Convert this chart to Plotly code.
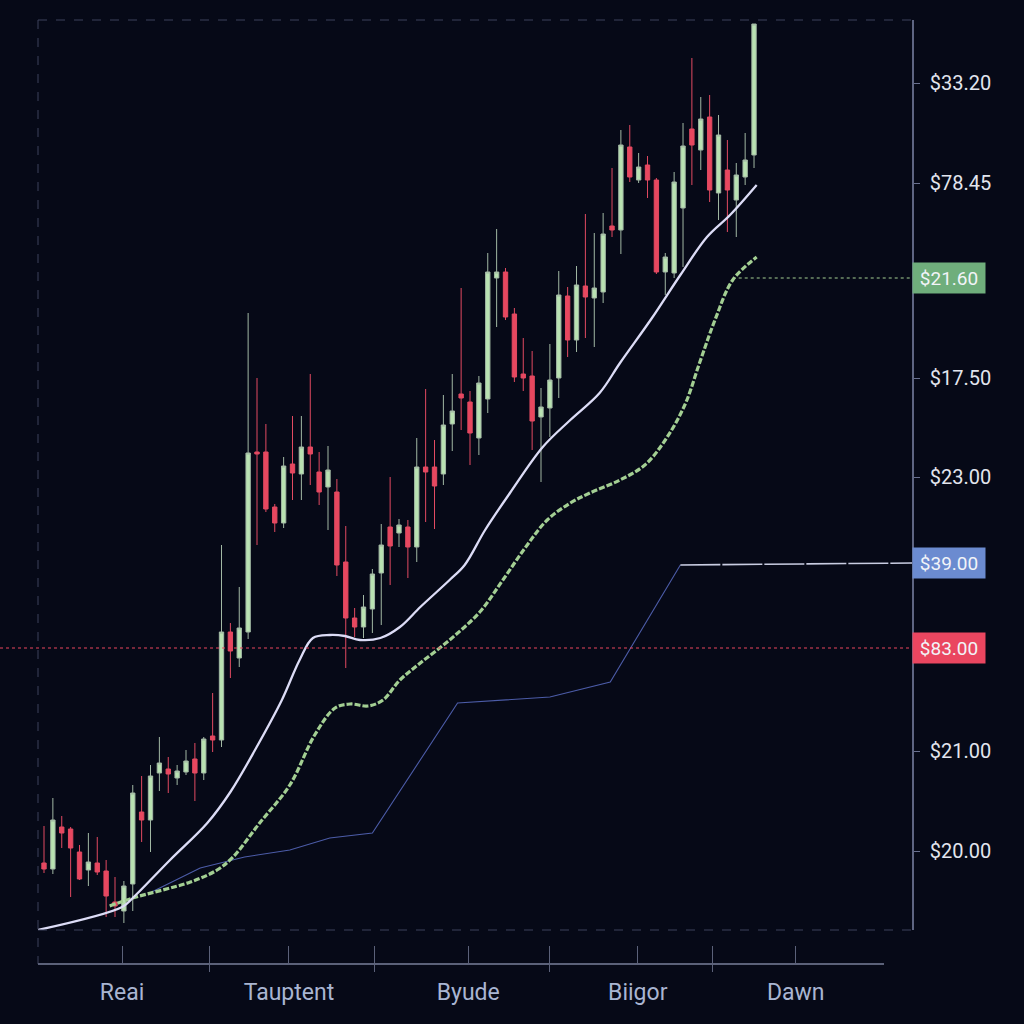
import plotly.graph_objects as go

# ---------------- data ----------------
periods = list(range(81))
open_ = [6.7, 6.1, 10.3, 10.1, 7.8, 6.0, 6.7, 5.9, 2.8, 1.9,
         4.6, 11.8, 11.0, 15.7, 16.1, 15.2, 15.8, 17.1, 15.7, 19.4,
         19.0, 29.8, 27.2, 29.8, 47.8, 47.8, 42.3, 40.7, 46.6, 45.6,
         48.3, 45.8, 44.3, 43.8, 36.8, 31.2, 30.3, 32.1, 35.7, 40.3,
         39.7, 40.3, 38.3, 46.3, 46.3, 45.6, 50.6, 53.6, 52.8, 49.2,
         53.1, 65.2, 65.8, 61.6, 55.6, 55.4, 51.3, 52.2, 55.2, 63.4,
         59.0, 64.4, 63.2, 63.8, 70.4, 70.0, 78.3, 75.0, 76.5, 75.0,
         65.8, 65.7, 72.2, 80.1, 78.0, 81.3, 73.7, 76.0, 73.0, 75.3, 77.5]
high = [10.4, 13.2, 11.4, 10.3, 8.5, 9.7, 9.3, 7.0, 5.3, 4.9,
        14.5, 15.4, 16.5, 19.3, 17.3, 16.5, 18.0, 18.7, 19.3, 23.7,
        38.5, 30.7, 34.3, 61.7, 55.2, 50.6, 42.6, 47.3, 51.4, 51.4,
        55.6, 47.8, 48.4, 45.1, 40.4, 32.2, 33.5, 36.1, 40.6, 45.3,
        41.1, 41.0, 49.2, 54.1, 49.0, 53.5, 55.6, 64.2, 53.9, 55.4,
        67.7, 70.1, 66.2, 62.2, 59.2, 57.9, 54.2, 58.6, 65.9, 64.3,
        66.4, 71.6, 69.7, 71.7, 76.2, 80.0, 80.5, 77.7, 77.4, 75.2,
        67.7, 75.8, 80.7, 87.2, 83.3, 83.5, 81.5, 79.0, 76.7, 79.7, 90.6]
low = [5.7, 5.6, 8.2, 3.3, 5.0, 4.4, 5.5, 1.3, 1.3, 0.7,
       1.9, 8.8, 7.8, 13.9, 13.7, 14.5, 15.5, 12.9, 15.0, 17.8,
       18.3, 25.2, 26.3, 29.1, 38.5, 41.8, 39.8, 40.2, 43.0, 43.0,
       44.5, 42.5, 40.0, 35.4, 26.2, 29.3, 29.2, 29.7, 30.5, 34.5,
       38.3, 35.2, 36.8, 40.8, 40.1, 44.5, 47.9, 50.0, 46.5, 47.5,
       51.7, 60.3, 61.0, 54.8, 53.9, 48.0, 44.8, 49.3, 53.2, 57.3,
       57.8, 59.2, 58.3, 62.7, 69.3, 67.6, 74.8, 74.7, 73.2, 65.6,
       63.5, 65.2, 66.3, 74.5, 76.0, 72.8, 71.0, 69.8, 69.3, 74.5, 76.2]
close = [6.1, 11.0, 9.7, 8.2, 5.1, 6.8, 5.8, 3.4, 2.4, 4.4,
         13.7, 11.0, 15.4, 16.7, 15.6, 15.9, 16.9, 15.7, 19.1, 19.0,
         29.8, 27.9, 30.2, 47.7, 47.6, 42.1, 40.7, 46.4, 45.7, 48.3,
         47.6, 43.8, 46.0, 36.5, 31.2, 30.3, 32.3, 35.6, 38.5, 38.4,
         40.5, 38.3, 46.3, 45.8, 44.4, 50.5, 51.9, 53.2, 49.7, 54.7,
         65.8, 65.8, 61.3, 55.3, 55.2, 50.9, 52.3, 55.0, 63.5, 59.0,
         64.5, 63.3, 64.2, 69.6, 70.0, 78.5, 75.3, 76.3, 75.0, 65.8,
         67.3, 74.8, 78.4, 78.5, 81.1, 74.0, 79.5, 74.0, 75.5, 77.0, 90.6]

# fast average line
ma_fast_x = [-0.68, 8.8, 10.0, 14.2, 18.4, 21.0, 23.9, 26.8, 28.8, 30.3, 32.2, 33.9,
             35.6, 37.9, 40.1, 42.4, 45.7, 47.4, 49.7, 52.5, 56.2, 59.3, 62.6, 64.9,
             68.5, 71.7, 74.7, 77.3, 80.3]
ma_fast_y = [0.0, 2.3, 3.2, 7.0, 10.7, 13.8, 18.2, 23.0, 27.0, 29.2, 29.5, 29.4,
             29.0, 29.2, 30.3, 32.3, 35.0, 36.5, 40.0, 43.7, 48.3, 51.0, 53.7, 56.7,
             61.2, 65.5, 69.3, 71.5, 74.5]
# slow average line (dashed)
ma_slow_x = [7.4, 10.0, 16.5, 19.5, 21.3, 24.3, 27.7, 30.5, 32.8, 34.5, 36.5, 38.2,
             40.1, 42.4, 45.7, 49.1, 51.7, 54.2, 56.7, 59.3, 61.5, 64.9, 67.7, 70.0,
             72.2, 73.9, 75.6, 77.6, 80.3]
ma_slow_y = [2.4, 3.2, 4.8, 6.0, 7.3, 10.7, 14.5, 19.5, 22.2, 22.6, 22.4, 23.0,
             25.0, 26.7, 29.0, 31.8, 35.0, 38.2, 41.0, 42.7, 43.7, 45.0, 46.5, 49.0,
             52.5, 56.8, 61.0, 65.0, 67.3]
# thin stepped line
step_x = [11.9, 17.6, 22.6, 27.7, 32.2, 37.0, 46.6, 57.0, 63.8, 71.7]
step_y = [3.7, 6.2, 7.3, 8.0, 9.2, 9.7, 22.7, 23.3, 24.8, 36.5]

x_tick_pos = [8.8, 27.6, 47.8, 66.9, 84.7]
x_tick_text = ["Reai", "Tauptent", "Byude", "Biigor", "Dawn"]
x_major_pos = [18.6, 37.2, 56.9, 75.3]

y_tick_vals = [84.7, 74.7, 55.2, 45.3, 17.9, 7.9]
y_tick_text = ["$33.20", "$78.45", "$17.50", "$23.00", "$21.00", "$20.00"]

price_tags = [65.2, 36.7, 28.2]
price_tag_text = ["$21.60", "$39.00", "$83.00"]
price_tag_color = ["#6fae7c", "#6b8bd0", "#ea4660"]

X_RANGE = [-0.676, 97.8]
Y_RANGE = [0, 91]

# ---------------- figure ----------------
BG = "#060917"
FONT = "Roboto, Liberation Sans, sans-serif"

def px(v):  # pixel -> paper (x)
    return v / 1024

def py(v):  # pixel -> paper (y)
    return (1024 - v) / 1024

fig = go.Figure()

fig.add_trace(go.Scatter(x=step_x, y=step_y, mode="lines",
                         line=dict(color="#4c5ca8", width=1.1), hoverinfo="skip"))
fig.add_trace(go.Scatter(x=[step_x[-1], X_RANGE[1]], y=[step_y[-1], price_tags[1]],
                         mode="lines", line=dict(color="#c9cde2", width=1.6, dash="40px,2px"),
                         hoverinfo="skip"))
fig.add_trace(go.Scatter(x=ma_slow_x, y=ma_slow_y, mode="lines", line_shape="spline",
                         line=dict(color="#a3cf93", width=3.2, dash="6px,2px"),
                         hoverinfo="skip"))
fig.add_trace(go.Scatter(x=ma_fast_x, y=ma_fast_y, mode="lines", line_shape="spline",
                         line=dict(color="#dcdcf6", width=2.3), hoverinfo="skip"))

fig.add_trace(go.Candlestick(
    x=periods, open=open_, high=high, low=low, close=close,
    increasing=dict(fillcolor="#b9e2b2", line=dict(color="#a2b8a4", width=1)),
    decreasing=dict(fillcolor="#e8475f", line=dict(color="#e24a62", width=1)),
    whiskerwidth=0, hoverinfo="skip"))

# invisible trace to keep the overlay axis (long ticks) alive
fig.add_trace(go.Scatter(x=[X_RANGE[0]], y=[0], xaxis="x2", mode="markers",
                         marker=dict(opacity=0), hoverinfo="skip"))

shapes = [
    # dashed frame
    dict(type="line", xref="paper", yref="paper", x0=px(38), x1=px(912), y0=py(20), y1=py(20),
         line=dict(color="#3d435c", width=1, dash="dash")),
    dict(type="line", xref="paper", yref="paper", x0=px(38), x1=px(912), y0=py(930), y1=py(930),
         line=dict(color="#3d435c", width=1, dash="dash")),
    dict(type="line", xref="paper", yref="paper", x0=px(38), x1=px(38), y0=py(20), y1=py(964),
         line=dict(color="#3d435c", width=1, dash="dash")),
    # bottom axis line
    dict(type="line", xref="paper", yref="paper", x0=px(38), x1=px(884), y0=py(964), y1=py(964),
         line=dict(color="#5b6179", width=2)),
    # red dotted level
    dict(type="line", xref="paper", yref="y", x0=0, x1=px(912), y0=price_tags[2], y1=price_tags[2],
         line=dict(color="#e8475f", width=1, dash="dot")),
    # green dotted level
    dict(type="line", xref="x", yref="y", x0=77.6, x1=X_RANGE[1], y0=price_tags[0], y1=price_tags[0],
         line=dict(color="#a3cf93", width=1.2, dash="dot")),
]

annotations = []
for v, t, c in zip(price_tags, price_tag_text, price_tag_color):
    annotations.append(dict(xref="paper", yref="y", x=px(912), y=v, xanchor="left",
                            yanchor="middle", text=t, showarrow=False, bgcolor=c,
                            width=72, height=30, align="center", borderpad=0,
                            font=dict(family=FONT, size=19, color="#f2f4f8")))

fig.update_layout(
    width=1024, height=1024,
    margin=dict(l=0, r=0, t=0, b=0),
    paper_bgcolor=BG, plot_bgcolor=BG,
    showlegend=False,
    shapes=shapes,
    annotations=annotations,
    xaxis=dict(domain=[px(38), px(912)], range=X_RANGE, anchor="free", position=py(964),
               showline=False, showgrid=False, zeroline=False,
               tickmode="array", tickvals=x_tick_pos, ticktext=x_tick_text,
               ticks="inside", ticklen=18, tickwidth=1, tickcolor="#5b6179",
               ticklabelstandoff=12,
               tickfont=dict(family=FONT, size=23, color="#a9b5d2"),
               rangeslider=dict(visible=False), fixedrange=True),
    xaxis2=dict(domain=[px(38), px(912)], range=X_RANGE, overlaying="x", anchor="free",
                position=py(972), showline=False, showgrid=False, zeroline=False,
                tickmode="array", tickvals=x_major_pos, showticklabels=False,
                ticks="inside", ticklen=26, tickwidth=1, tickcolor="#5b6179"),
    yaxis=dict(domain=[py(930), py(20)], range=Y_RANGE, side="right", anchor="x",
               showline=True, linecolor="#5e6582", linewidth=1.5,
               showgrid=False, zeroline=False,
               tickmode="array", tickvals=y_tick_vals, ticktext=y_tick_text,
               ticks="outside", ticklen=6, tickwidth=1, tickcolor="#6a7190",
               ticklabelstandoff=6,
               tickfont=dict(family=FONT, size=20, color="#e2e5ee")),
)

fig.write_html("out.html")
